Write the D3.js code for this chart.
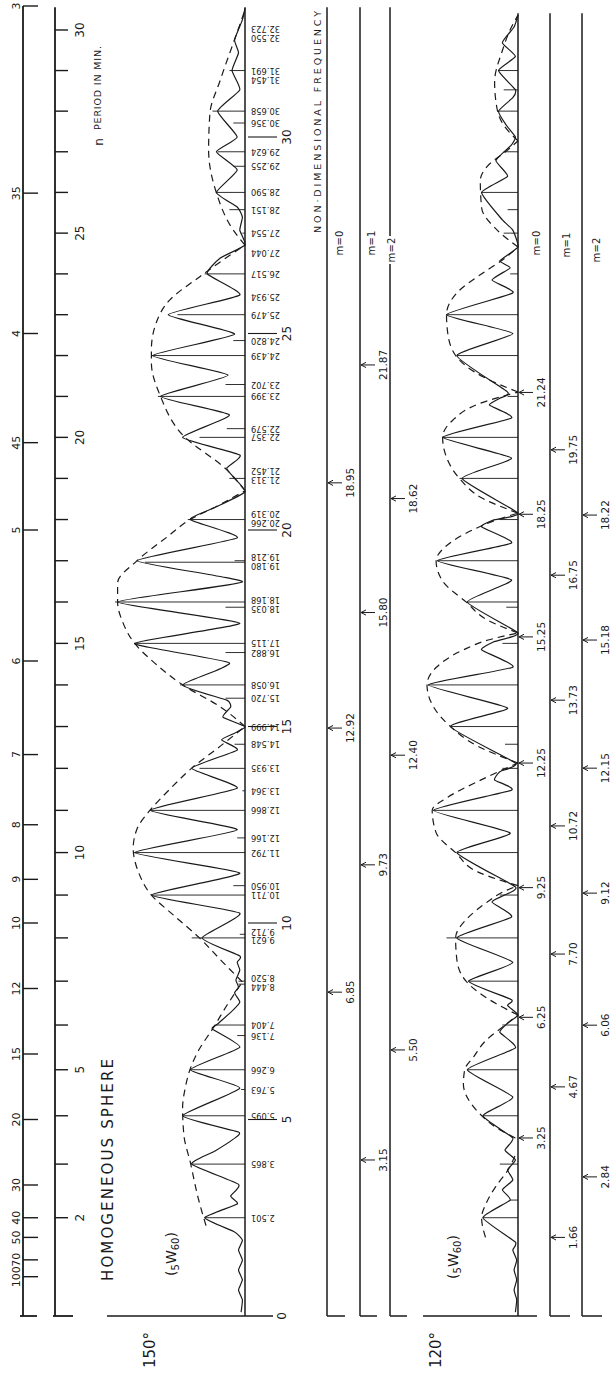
<!DOCTYPE html>
<html>
<head>
<meta charset="utf-8">
<script src="https://cdnjs.cloudflare.com/ajax/libs/d3/7.8.5/d3.min.js"></script>
<style>
  body { margin: 0; background: #fff; }
  svg text { font-family: "DejaVu Sans", sans-serif; fill: #1a1a1a; }
</style>
</head>
<body>
<script>
// n axis: first eigenfrequency of each n (n = 2 .. 30)
const nFirst = 2;
const nFreqs = [2.501, 3.865, 5.095, 6.266, 7.404, 8.520, 9.621, 10.711, 11.792, 12.866,
  13.935, 14.999, 16.058, 17.115, 18.168, 19.218, 20.266, 21.313, 22.357, 23.399,
  24.439, 25.479, 26.517, 27.554, 28.590, 29.624, 30.658, 31.691, 32.723];
const nLabels = [2, 5, 10, 15, 20, 25, 30];

// period axis (minutes)
const periods = [3, 3.5, 4, 4.5, 5, 6, 7, 8, 9, 10, 12, 15, 20, 30, 40, 50, 70, 100];
const periodLabels = ["3", "35", "4", "45", "5", "6", "7", "8", "9", "10", "12", "15", "20", "30", "40", "50", "70", "100"];

const freqTicks = [5, 10, 15, 20, 25, 30];

// 150 deg spectrum: [frequency, relative amplitude]
const curve150 = [
  [0.1, 3], [0.41, 2], [0.66, 5], [0.92, 2], [1.17, 5], [1.42, 2], [1.68, 5], [1.93, 2],
  [2.14, 8], [2.501, 31], [2.85, 6], [3.05, 11], [3.35, 5], [3.865, 41], [4.2, 23], [4.5, 9],
  [4.68, 5], [5.095, 48], [5.8, 4], [6.266, 42], [6.84, 4], [7.3, 25], [7.43, 21], [7.79, 9],
  [7.99, 4], [8.22, 8], [8.37, 5], [8.55, 7], [8.8, 4], [9.0, 6], [9.16, 4], [9.621, 33],
  [10.25, 4], [10.711, 72], [11.27, 4], [11.792, 85], [12.37, 6], [12.866, 73], [13.43, 6],
  [13.935, 41], [14.4, 6], [14.66, 18], [14.83, 8], [14.999, 0], [15.24, 17], [15.5, 11],
  [15.67, 14], [16.058, 48], [16.62, 12], [17.115, 85], [17.63, 4], [18.168, 98], [18.68, 2],
  [19.218, 83], [19.8, 6], [20.266, 42], [20.59, 22], [20.97, 0], [21.35, 9], [21.58, 14],
  [21.91, 4], [22.357, 48], [22.93, 12], [23.399, 65], [23.94, 13], [24.439, 71], [24.98, 8],
  [25.479, 59], [25.98, 4], [26.517, 29], [26.92, 19], [27.25, 0], [27.63, 4], [27.96, 2],
  [28.22, 6], [28.59, 22], [29.16, 6], [29.624, 22], [30.0, 6], [30.658, 21], [31.2, 4],
  [31.691, 10], [32.14, 5], [32.47, 8], [32.98, 2], [33.28, 0]
];

const env150 = [
  [[2.3, 30], [3.0, 36], [3.9, 42], [4.6, 47], [5.3, 48], [5.8, 46], [6.3, 42], [6.8, 35], [7.3, 25], [7.9, 14], [8.5, 2]],
  [[8.5, 2], [9.0, 17], [9.62, 35], [10.2, 55], [10.71, 72], [11.3, 82], [11.9, 86], [12.4, 83], [12.87, 73], [13.4, 58], [13.94, 41], [14.5, 19], [15.0, 0]],
  [[15.0, 0], [15.5, 19], [16.06, 48], [16.6, 69], [17.12, 85], [17.65, 94], [18.17, 98], [18.65, 98], [19.22, 83], [19.82, 60], [20.27, 42], [20.6, 22], [21.0, 0]],
  [[21.0, 0], [21.53, 14], [22.42, 48], [23.4, 65], [24.25, 72], [24.6, 72], [25.3, 68], [25.85, 58], [26.44, 35], [27.05, 9], [27.25, 0]],
  [[27.25, 0], [27.63, 9], [28.58, 22], [29.67, 28], [30.6, 27], [31.45, 19], [32.39, 9], [33.23, 0]]
];

// labelled eigenfrequencies with stick length
const sticks150 = [
  [2.501, 31], [3.865, 41], [5.095, 48], [5.763, 3], [6.266, 42], [7.136, 6], [7.404, 23],
  [8.444, 5], [8.520, 5], [9.621, 41], [9.712, 4], [10.711, 72], [10.950, 9], [11.792, 85],
  [12.166, 6], [12.866, 73], [13.364, 2], [13.935, 35], [14.548, 8], [14.999, 0], [15.720, 15],
  [16.058, 50], [16.882, 15], [17.115, 85], [18.035, 15], [18.168, 100], [19.180, 77], [19.218, 8],
  [20.266, 44], [20.319, 0], [21.313, 12], [21.452, 0], [22.357, 35], [22.579, 14], [23.399, 67],
  [23.702, 15], [24.439, 72], [24.820, 9], [25.479, 52], [25.934, 0], [26.517, 31], [27.044, 0],
  [27.554, 2], [28.151, 12], [28.590, 22], [29.255, 9], [29.624, 21], [30.356, 9], [30.658, 25],
  [31.454, 0], [31.691, 12], [32.550, 0], [32.723, 0]
];

// 120 deg spectrum
const curve120 = [
  [0.1, 2], [0.41, 1], [0.66, 3], [0.92, 1], [1.17, 3], [1.42, 1], [1.68, 4], [1.88, 2],
  [2.501, 27], [2.95, 6], [3.21, 12], [3.46, 4], [3.72, 8], [3.97, 2], [4.22, 10], [4.53, 4],
  [5.095, 27], [5.57, 4], [6.266, 39], [6.82, 2], [7.22, 14], [7.45, 8], [7.66, 0], [7.9, 8],
  [8.05, 5], [8.52, 38], [9.0, 4], [9.621, 47], [10.15, 5], [10.53, 20], [10.7, 11], [10.92, 2],
  [11.792, 47], [12.29, 6], [12.866, 65], [13.38, 5], [13.64, 18], [13.85, 14], [14.07, 2],
  [14.999, 52], [15.47, 8], [16.058, 69], [16.51, 4], [16.95, 28], [17.15, 19], [17.38, 0],
  [18.168, 39], [18.73, 5], [19.218, 62], [19.67, 5], [20.08, 28], [20.25, 19], [20.43, 0],
  [21.313, 43], [21.83, 5], [22.357, 58], [22.85, 5], [23.18, 22], [23.35, 14], [23.51, 8],
  [24.439, 47], [25.0, 4], [25.479, 55], [26.03, 4], [26.36, 20], [26.67, 6], [26.85, 14],
  [27.2, 0], [27.63, 4], [27.89, 12], [28.59, 28], [29.0, 8], [29.4, 17], [29.8, 5], [30.0, 2],
  [30.3, 9], [30.658, 15], [31.0, 4], [31.2, 2], [31.691, 15], [32.05, 2], [32.4, 12], [32.8, 3],
  [33.1, 0]
];

const env120 = [
  [[2.0, 25], [2.5, 28], [2.9, 24], [3.3, 17], [3.7, 8], [4.1, 2]],
  [[4.53, 2], [4.8, 17], [5.1, 28], [5.4, 36], [5.9, 42], [6.27, 41], [6.6, 34], [7.0, 25], [7.35, 12], [7.66, 0]],
  [[7.66, 0], [7.95, 17], [8.52, 40], [9.06, 47], [9.62, 48], [10.15, 38], [10.5, 25], [10.8, 11], [10.95, 0]],
  [[10.95, 0], [11.3, 31], [11.79, 48], [12.3, 63], [12.87, 66], [13.2, 54], [13.6, 31], [13.85, 15], [14.07, 0]],
  [[14.07, 0], [14.5, 31], [15.0, 52], [15.5, 65], [16.06, 70], [16.5, 63], [16.95, 42], [17.2, 23], [17.38, 0]],
  [[17.38, 0], [17.7, 23], [18.17, 40], [18.7, 58], [19.22, 63], [19.6, 55], [20.0, 35], [20.25, 17], [20.43, 0]],
  [[20.43, 0], [20.8, 27], [21.31, 45], [21.85, 55], [22.36, 58], [22.8, 50], [23.2, 31], [23.51, 0]],
  [[23.51, 0], [23.9, 27], [24.44, 48], [25.0, 54], [25.48, 55], [26.1, 45], [26.54, 27], [26.87, 12], [27.2, 0]],
  [[27.2, 0], [27.63, 16], [28.2, 28], [28.9, 29], [29.24, 24], [29.67, 8], [29.9, 0]],
  [[29.9, 0], [30.3, 11], [30.7, 16], [31.4, 18], [32.2, 12], [32.8, 5], [33.1, 0]]
];

const sticks120 = [
  [2.501, 27], [2.95, 6], [3.865, 14], [5.095, 27], [6.266, 39], [7.404, 12], [8.52, 38], [9.621, 55],
  [10.711, 14], [11.792, 47], [12.866, 65], [13.935, 12], [14.548, 10], [14.999, 52], [16.058, 69],
  [17.115, 12], [18.035, 9], [18.168, 39], [19.218, 62], [20.266, 14], [21.313, 45], [22.357, 58],
  [23.399, 8], [24.439, 47], [25.479, 55], [26.517, 6], [27.554, 11], [28.151, 8], [28.59, 28],
  [29.624, 11], [30.658, 15], [31.2, 11], [31.691, 15]
];

// predicted markers on the m lines: [label, frequency on axis]
const m0Arrows150 = [["6.85", 8.24], ["12.92", 14.96], ["18.95", 21.2]];
const m1Arrows150 = [["3.15", 3.97], ["9.73", 11.48], ["15.80", 17.9], ["21.87", 24.2]];
const m2Arrows150 = [["5.50", 6.77], ["12.40", 14.27], ["18.62", 20.8]];
const m0Arrows120 = [["3.25", 4.53], ["6.25", 7.6], ["9.25", 10.9], ["12.25", 14.07], ["15.25", 17.28], ["18.25", 20.4], ["21.24", 23.5]];
const m1Arrows120 = [["1.66", 2.0], ["4.67", 5.83], ["7.70", 9.21], ["10.72", 12.47], ["13.73", 15.67], ["16.75", 18.85], ["19.75", 22.04]];
const m2Arrows120 = [["2.84", 3.54], ["6.06", 7.4], ["9.12", 10.76], ["12.15", 13.94], ["15.18", 17.2], ["18.22", 20.38]];

const ink = "#1a1a1a";
const fTop = 33.3;

const svg = d3
  .select("body")
  .append("svg")
  .attr("width", 610)
  .attr("height", 1375);

const fy = d3.scaleLinear().domain([0, 30]).range([1316, 137]);
const a150 = d3.scaleLinear().domain([0, 100]).range([245, 115]);
const a120 = d3.scaleLinear().domain([0, 100]).range([518, 388]);

function seg(x1, y1, x2, y2, w) {
  return svg
    .append("line")
    .attr("x1", x1)
    .attr("y1", y1)
    .attr("x2", x2)
    .attr("y2", y2)
    .attr("stroke", ink)
    .attr("stroke-width", w || 1);
}

function rtext(x, y, str, size, angle) {
  return svg
    .append("text")
    .attr("transform", `translate(${x},${y}) rotate(${angle})`)
    .attr("text-anchor", "middle")
    .attr("dominant-baseline", "central")
    .attr("font-size", size)
    .text(str);
}

// Period axis
seg(23, fy(100 / periods[0]), 23, fy(0), 1.8);
seg(20, fy(0), 37, fy(0), 1.8);
periods.forEach((p, i) => {
  seg(23, fy(100 / p), 38, fy(100 / p), 1.4);
  rtext(16, fy(100 / p), periodLabels[i], 11, -90);
});
rtext(97, 88, "PERIOD IN MIN.", 9.5, -90)
  .attr("textLength", 84)
  .attr("lengthAdjust", "spacing");

// n axis
seg(55, fy(fTop), 55, fy(0), 1.8);
seg(53, fy(0), 73, fy(0), 1.8);
nFreqs.forEach((f) => seg(55, fy(f), 68, fy(f), 1.4));
nLabels.forEach((n) => rtext(80, fy(nFreqs[n - nFirst]), String(n), 12, -90));
rtext(99, 142, "n", 12, -90);

// Titles
rtext(108, 1170, "HOMOGENEOUS SPHERE", 15, -90)
  .attr("textLength", 222)
  .attr("lengthAdjust", "spacing");
rtext(317, 122, "NON\u00b7DIMENSIONAL FREQUENCY", 9.5, -90)
  .attr("textLength", 222)
  .attr("lengthAdjust", "spacing");
rtext(150, 1350, "150\u00b0", 15, -90);
rtext(436, 1350, "120\u00b0", 15, -90);

function waveLabel(x, y) {
  const t = rtext(x, y, "", 14, -90);
  t.append("tspan").text("(");
  t.append("tspan").attr("font-size", 10).attr("dy", 4).text("5");
  t.append("tspan").attr("dy", -4).text("W");
  t.append("tspan").attr("font-size", 10).attr("dy", 4).text("60");
  t.append("tspan").attr("dy", -4).text(")");
}
waveLabel(171, 1254);
waveLabel(453, 1257);

// ---- 150 deg panel
seg(a150(0), fy(fTop), a150(0), fy(0), 1.5);
seg(107, fy(0), 273, fy(0), 1.5);
freqTicks.forEach((v) => {
  seg(248, fy(v), 277, fy(v), 1.1);
  rtext(287, fy(v), String(v), 12, -90);
});
rtext(282, fy(0), "0", 12, -90);

svg
  .append("g")
  .selectAll("line")
  .data(sticks150)
  .enter()
  .append("line")
  .attr("x1", a150(0))
  .attr("x2", (d) => a150(d[1]))
  .attr("y1", (d) => fy(d[0]))
  .attr("y2", (d) => fy(d[0]))
  .attr("stroke", ink)
  .attr("stroke-width", 0.9);

const spec150 = d3
  .line()
  .x((d) => a150(d[1]))
  .y((d) => fy(d[0]))
  .curve(d3.curveCardinal.tension(0.55));
svg
  .append("path")
  .datum(curve150)
  .attr("d", spec150)
  .attr("fill", "none")
  .attr("stroke", ink)
  .attr("stroke-width", 1.2);

const envLine150 = d3
  .line()
  .x((d) => a150(d[1]))
  .y((d) => fy(d[0]))
  .curve(d3.curveMonotoneY);
svg
  .append("g")
  .selectAll("path")
  .data(env150)
  .enter()
  .append("path")
  .attr("d", envLine150)
  .attr("fill", "none")
  .attr("stroke", ink)
  .attr("stroke-width", 1.2)
  .attr("stroke-dasharray", "7,5");

// upside-down frequency labels, nudged apart where crowded
const labs = sticks150
  .map((d) => ({ f: d[0], y: fy(d[0]) }))
  .sort((a, b) => a.y - b.y);
for (let it = 0; it < 300; it++) {
  for (let i = 1; i < labs.length; i++) {
    const gap = labs[i].y - labs[i - 1].y;
    if (gap < 8.6) {
      const push = (8.6 - gap) / 2;
      labs[i].y += push;
      labs[i - 1].y -= push;
    }
  }
}
svg
  .append("g")
  .selectAll("text")
  .data(labs)
  .enter()
  .append("text")
  .attr("transform", (d) => `translate(251,${d.y}) rotate(180)`)
  .attr("text-anchor", "end")
  .attr("dominant-baseline", "central")
  .attr("font-size", 8.3)
  .text((d) => d3.format(".3f")(d.f));

// ---- m lines with arrows
function mLine(x, top, list, footLen) {
  seg(x, fy(top), x, fy(0), 1.5);
  seg(x, fy(0), x + footLen, fy(0), 1.5);
  const a = svg
    .append("g")
    .selectAll("g")
    .data(list)
    .enter()
    .append("g")
    .attr("transform", (d) => `translate(${x},${fy(d[1])})`);
  a.append("path")
    .attr("d", "M1,0H15M1,0L6,-2.6M1,0L6,2.6")
    .attr("fill", "none")
    .attr("stroke", ink)
    .attr("stroke-width", 1);
  a.append("text")
    .attr("transform", "translate(23,0) rotate(-90)")
    .attr("text-anchor", "middle")
    .attr("dominant-baseline", "central")
    .attr("font-size", 10.5)
    .text((d) => d[0]);
}

mLine(327, fTop, m0Arrows150, 18);
mLine(360, fTop, m1Arrows150, 17);
mLine(390, fTop, m2Arrows150, 17);

function mLabel(x, y, str, blank) {
  if (blank) {
    svg.append("rect").attr("x", x - 6).attr("y", y - 14).attr("width", 12).attr("height", 28).attr("fill", "#fff");
  }
  rtext(x, y, str, 10, -90).attr("textLength", 25).attr("lengthAdjust", "spacing");
}
mLabel(339, 243, "m = 0");
mLabel(371, 243, "m = 1");
mLabel(391, 250, "m = 2", true);

// ---- 120 deg panel
seg(423, fy(0), 537, fy(0), 1.5);
mLine(a120(0), 33.15, m0Arrows120, 0);
mLine(550, 33.15, m1Arrows120, 20);
mLine(582, 33.15, m2Arrows120, 20);
mLabel(536, 243, "m = 0");
mLabel(566, 245, "m = 1");
mLabel(596, 250, "m = 2");

svg
  .append("g")
  .selectAll("line")
  .data(sticks120)
  .enter()
  .append("line")
  .attr("x1", a120(0))
  .attr("x2", (d) => a120(d[1]))
  .attr("y1", (d) => fy(d[0]))
  .attr("y2", (d) => fy(d[0]))
  .attr("stroke", ink)
  .attr("stroke-width", 0.9);

const spec120 = d3
  .line()
  .x((d) => a120(d[1]))
  .y((d) => fy(d[0]))
  .curve(d3.curveCardinal.tension(0.55));
svg
  .append("path")
  .datum(curve120)
  .attr("d", spec120)
  .attr("fill", "none")
  .attr("stroke", ink)
  .attr("stroke-width", 1.2);

const envLine120 = d3
  .line()
  .x((d) => a120(d[1]))
  .y((d) => fy(d[0]))
  .curve(d3.curveMonotoneY);
svg
  .append("g")
  .selectAll("path")
  .data(env120)
  .enter()
  .append("path")
  .attr("d", envLine120)
  .attr("fill", "none")
  .attr("stroke", ink)
  .attr("stroke-width", 1.2)
  .attr("stroke-dasharray", "7,5");
</script>
</body>
</html>
